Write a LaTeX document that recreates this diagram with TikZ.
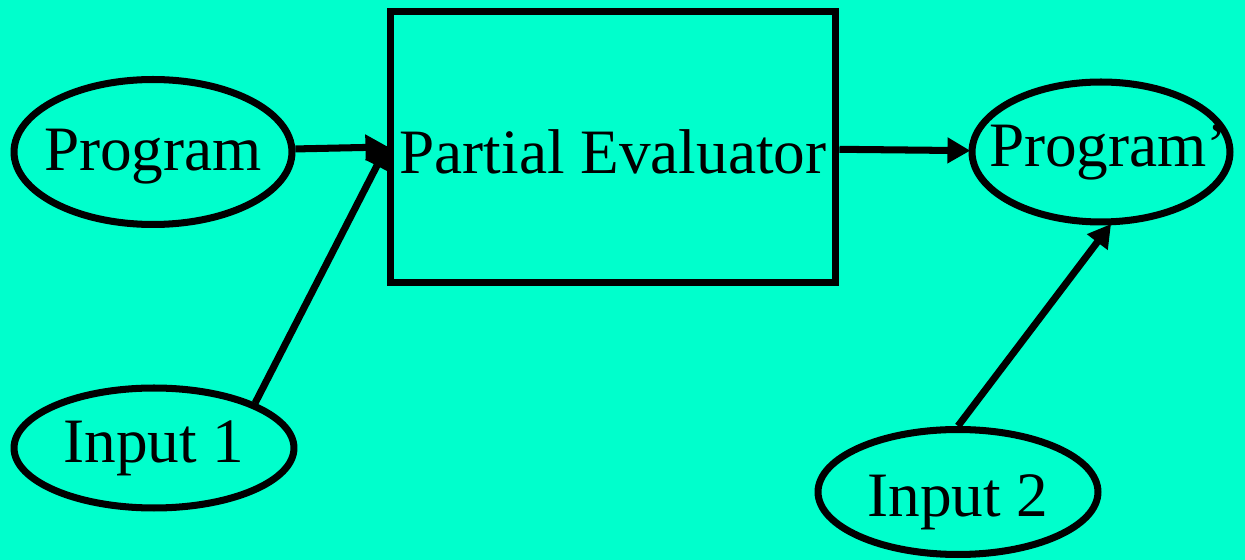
\documentclass[tikz,border=0pt]{standalone}
\usepackage{fontspec}
\setmainfont{Liberation Serif}
\usepackage{tikz}
\usetikzlibrary{shapes.geometric}
\usetikzlibrary{arrows.meta}
\definecolor{bgcyan}{RGB}{0,255,204}

\newcommand{\ovaltext}[2][0cm]{\makebox[0pt]{\raisebox{#1}[\height][\depth]{#2}}}

\begin{document}
\begin{tikzpicture}[x=0.02cm, y=-0.02cm,
        oval/.style={ellipse, draw=black, line width=4pt, inner sep=0pt, font=\fontsize{36}{40}\selectfont},
        evalbox/.style={rectangle, draw=black, line width=4pt, inner sep=0pt, font=\fontsize{36}{40}\selectfont},
        flow/.style={-{Triangle[length=13pt,width=14pt]}, line width=4pt, shorten >=-1pt}
    ]
        \fill[bgcyan] (0,0) rectangle (1245,560);
        \useasboundingbox (0,0) rectangle (1245,560);

        \node[oval, minimum width=5.56cm, minimum height=2.9cm](prog) at (153,152){\ovaltext[-0.1cm]{Program}};
        \node[evalbox, minimum width=8.92cm, minimum height=5.42cm](pe) at (613,147){\raisebox{-0.1cm}[\height][\depth]{Partial Evaluator}};
        \node[oval, minimum width=5.16cm, minimum height=2.8cm](prog2) at (1101,152){\ovaltext{\hspace{0.3cm}Program’}};
        \node[oval, minimum width=5.6cm, minimum height=2.4cm](in1) at (154,448){\ovaltext{Input 1}};
        \node[oval, minimum width=5.6cm, minimum height=2.5cm](in2) at (958,492){\ovaltext[-0.2cm]{Input 2}};

        \draw[flow] (prog) -- (pe.west);
        \draw[flow] (in1.24) -- (pe.west);
        \draw[flow] (pe) -- (prog2);
        \draw[flow] (in2.north) -- (prog2.-83);
    \end{tikzpicture}
\end{document}
